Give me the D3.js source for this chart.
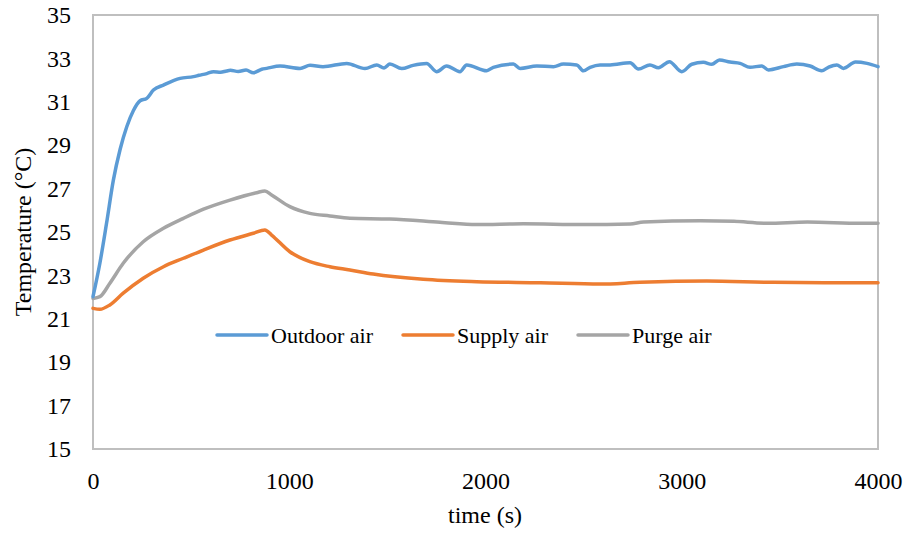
<!DOCTYPE html>
<html>
<head>
<meta charset="utf-8">
<script src="https://cdn.jsdelivr.net/npm/d3@7"></script>
<style>
  html, body { margin: 0; padding: 0; background: #fff; }
  svg { display: block; }
  text { font-family: "Liberation Serif", "Times New Roman", serif; fill: #000; }
</style>
</head>
<body>
<svg id="chart" width="907" height="536"></svg>
<script>
// Measured temperatures (°C) against time (s)
const outdoorTime = [0, 35, 69, 104, 138, 172, 206, 240, 274, 308, 359, 444, 512, 540, 580, 614, 650, 681, 700, 740, 780, 817, 860, 885, 953, 1055, 1106, 1172, 1293, 1386, 1446, 1483, 1513, 1573, 1631, 1700, 1751, 1802, 1870, 1904, 2006, 2040, 2142, 2176, 2261, 2346, 2397, 2465, 2499, 2533, 2584, 2635, 2737, 2779, 2838, 2881, 2937, 3000, 3051, 3110, 3153, 3192, 3246, 3297, 3348, 3408, 3442, 3518, 3586, 3654, 3713, 3747, 3790, 3824, 3885, 3944, 4000];
const outdoorTemp = [22.02, 23.56, 25.4, 27.4, 28.8, 29.85, 30.6, 31.05, 31.16, 31.54, 31.77, 32.08, 32.16, 32.22, 32.3, 32.39, 32.36, 32.42, 32.45, 32.4, 32.46, 32.34, 32.5, 32.54, 32.65, 32.54, 32.68, 32.62, 32.77, 32.53, 32.7, 32.56, 32.74, 32.53, 32.68, 32.77, 32.39, 32.65, 32.39, 32.7, 32.43, 32.59, 32.74, 32.54, 32.65, 32.62, 32.74, 32.7, 32.43, 32.59, 32.7, 32.7, 32.8, 32.51, 32.7, 32.57, 32.85, 32.39, 32.73, 32.82, 32.73, 32.93, 32.83, 32.77, 32.59, 32.65, 32.47, 32.62, 32.74, 32.65, 32.43, 32.59, 32.7, 32.54, 32.83, 32.77, 32.62];

const supplyTime = [0, 35, 86, 154, 256, 359, 461, 563, 698, 817, 876, 910, 1003, 1105, 1207, 1309, 1428, 1683, 1955, 2280, 2584, 2788, 3127, 3466, 3911, 4000];
const supplyTemp = [21.48, 21.44, 21.64, 22.18, 22.87, 23.4, 23.79, 24.17, 24.63, 24.94, 25.09, 24.86, 24.09, 23.63, 23.4, 23.25, 23.06, 22.82, 22.71, 22.66, 22.6, 22.68, 22.74, 22.68, 22.66, 22.66];

const purgeTime = [0, 35, 86, 154, 256, 359, 461, 563, 698, 834, 876, 910, 1003, 1105, 1207, 1309, 1513, 1768, 1955, 2193, 2499, 2737, 2805, 3096, 3266, 3436, 3640, 3911, 4000];
const purgeTemp = [21.94, 22.02, 22.64, 23.56, 24.55, 25.17, 25.63, 26.05, 26.47, 26.81, 26.89, 26.71, 26.17, 25.86, 25.74, 25.63, 25.6, 25.45, 25.34, 25.38, 25.34, 25.37, 25.46, 25.52, 25.49, 25.4, 25.46, 25.4, 25.4];

const seriesNames = ["Outdoor air", "Supply air", "Purge air"];
const seriesColors = ["#5B9BD5", "#ED7D31", "#A5A5A5"];
const xTicks = [0, 1000, 2000, 3000, 4000];
const yTicks = [15, 17, 19, 21, 23, 25, 27, 29, 31, 33, 35];

const svg = d3.select("#chart");
const plotLeft = 93, plotRight = 878, plotTop = 15, plotBottom = 449;

const x = d3.scaleLinear().domain([0, 4000]).range([plotLeft, plotRight]);
const y = d3.scaleLinear().domain([15, 35]).range([plotBottom, plotTop]);

// plot frame
svg.append("rect")
  .attr("x", plotLeft).attr("y", plotTop)
  .attr("width", plotRight - plotLeft).attr("height", plotBottom - plotTop)
  .attr("fill", "none").attr("stroke", "#BFBFBF").attr("stroke-width", 2);

// y axis labels
const yAxis = d3.axisLeft(y).tickValues(yTicks).tickSize(0).tickPadding(22);
svg.append("g").attr("transform", `translate(${plotLeft},0)`).call(yAxis)
  .call(g => g.select(".domain").remove())
  .selectAll("text")
  .style("font-family", '"Liberation Serif", serif')
  .style("font-size", "24px")
  .style("fill", "#000");

// x axis labels
const xAxis = d3.axisBottom(x).tickValues(xTicks).tickSize(0).tickPadding(23).tickFormat(d3.format("d"));
svg.append("g").attr("transform", `translate(0,${plotBottom})`).call(xAxis)
  .call(g => g.select(".domain").remove())
  .selectAll("text")
  .style("font-family", '"Liberation Serif", serif')
  .style("font-size", "24px")
  .style("fill", "#000");

// series lines
const series = [
  { name: seriesNames[0], t: outdoorTime, v: outdoorTemp, color: seriesColors[0] },
  { name: seriesNames[1], t: supplyTime, v: supplyTemp, color: seriesColors[1] },
  { name: seriesNames[2], t: purgeTime, v: purgeTemp, color: seriesColors[2] }
];
const line = d3.line().x(d => x(d[0])).y(d => y(d[1])).curve(d3.curveMonotoneX);

// draw purge and supply first, outdoor on top
[2, 1, 0].forEach(i => {
  const s = series[i];
  svg.append("path")
    .datum(d3.zip(s.t, s.v))
    .attr("d", line)
    .attr("fill", "none")
    .attr("stroke", s.color)
    .attr("stroke-width", 3.5)
    .attr("stroke-linejoin", "round")
    .attr("stroke-linecap", "round");
});

// legend
const legendX = [217, 403, 578];
const legendY = 335;
series.forEach((s, i) => {
  const g = svg.append("g");
  g.append("line")
    .attr("x1", legendX[i]).attr("x2", legendX[i] + 50)
    .attr("y1", legendY).attr("y2", legendY)
    .attr("stroke", s.color).attr("stroke-width", 3.5).attr("stroke-linecap", "round");
  g.append("text")
    .attr("x", legendX[i] + 54).attr("y", legendY)
    .attr("dy", "0.35em")
    .style("font-size", "22px")
    .text(s.name);
});

// axis titles
svg.append("text")
  .attr("x", 485).attr("y", 523)
  .attr("text-anchor", "middle")
  .style("font-size", "24px")
  .text("time (s)");

svg.append("text")
  .attr("transform", "translate(31,232) rotate(-90)")
  .attr("text-anchor", "middle")
  .style("font-size", "24px")
  .text("Temperature (°C)");
</script>
</body>
</html>
